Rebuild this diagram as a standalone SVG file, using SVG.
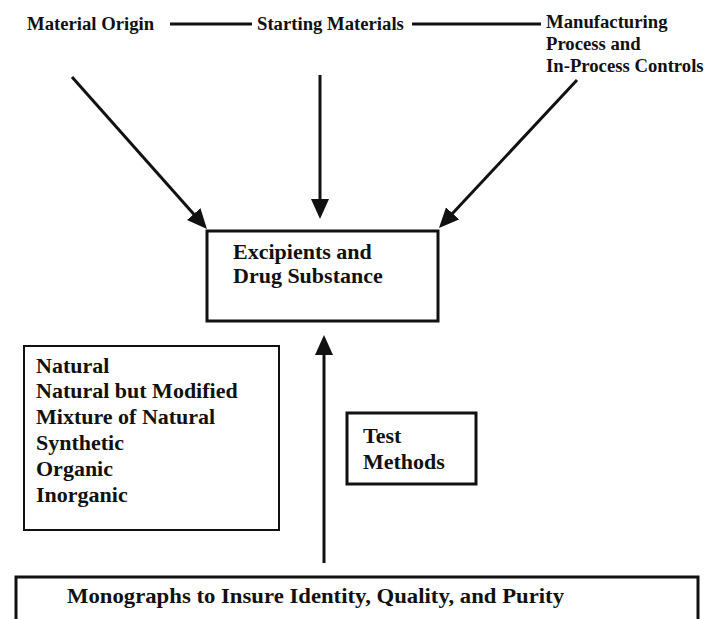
<svg xmlns="http://www.w3.org/2000/svg" width="708" height="619" viewBox="0 0 708 619">
  <style>
    .t { font-family: "Liberation Serif", "Times New Roman", serif; font-weight: bold; fill: #111; }
    .top { font-size: 18.7px; }
    .big { font-size: 22px; }
    .box { fill: #fff; stroke: #111; }
    .link { stroke: #111; stroke-width: 3; fill: none; }
    .arrow { stroke: #111; stroke-width: 3; fill: none; marker-end: url(#head); }
  </style>
  <defs>
    <!-- solid triangular head, 20 long x 18 wide; the line stops 4px short of the tip -->
    <marker id="head" viewBox="0 0 10 10" refX="8" refY="5" markerWidth="20" markerHeight="18" markerUnits="userSpaceOnUse" orient="auto" preserveAspectRatio="none">
      <path d="M0,0 L10,5 L0,10 Z" fill="#111"/>
    </marker>
  </defs>
  <rect width="708" height="619" fill="#fff"/>

  <!-- connectors -->
  <g id="connectors">
    <line class="link" x1="170" y1="24" x2="252" y2="24"/>
    <line class="link" x1="412" y1="24" x2="541" y2="24"/>
    <line class="arrow" x1="72" y1="77" x2="204.3" y2="226"/>
    <line class="arrow" x1="320" y1="75" x2="320" y2="215"/>
    <line class="arrow" x1="577" y1="80" x2="441.7" y2="225.1"/>
    <line class="arrow" x1="324" y1="563" x2="324" y2="339"/>
  </g>

  <g id="material-origin">
    <text class="t top" x="27" y="30">Material Origin</text>
  </g>
  <g id="starting-materials">
    <text class="t top" x="257" y="30">Starting Materials</text>
  </g>
  <g id="manufacturing">
    <text class="t top" x="546" y="28">Manufacturing</text>
    <text class="t top" x="546" y="50">Process and</text>
    <text class="t top" x="546" y="72">In-Process Controls</text>
  </g>

  <g id="excipients">
    <rect class="box" x="207" y="231" width="231" height="90" stroke-width="3"/>
    <text class="t big" x="233" y="259">Excipients and</text>
    <text class="t big" x="233" y="283">Drug Substance</text>
  </g>

  <g id="origin-types">
    <rect class="box" x="24" y="346" width="255" height="184" stroke-width="2"/>
    <text class="t big" x="36" y="373">Natural</text>
    <text class="t big" x="36" y="398">Natural but Modified</text>
    <text class="t big" x="36" y="424">Mixture of Natural</text>
    <text class="t big" x="36" y="450">Synthetic</text>
    <text class="t big" x="36" y="476">Organic</text>
    <text class="t big" x="36" y="502">Inorganic</text>
  </g>

  <g id="test-methods">
    <rect class="box" x="347" y="413" width="129" height="71" stroke-width="3"/>
    <text class="t big" x="363" y="443">Test</text>
    <text class="t big" x="363" y="469">Methods</text>
  </g>

  <g id="monographs">
    <rect class="box" x="16" y="577" width="682" height="60" stroke-width="3"/>
    <text class="t big" x="67" y="603" textLength="497" lengthAdjust="spacingAndGlyphs">Monographs to Insure Identity, Quality, and Purity</text>
  </g>
</svg>
